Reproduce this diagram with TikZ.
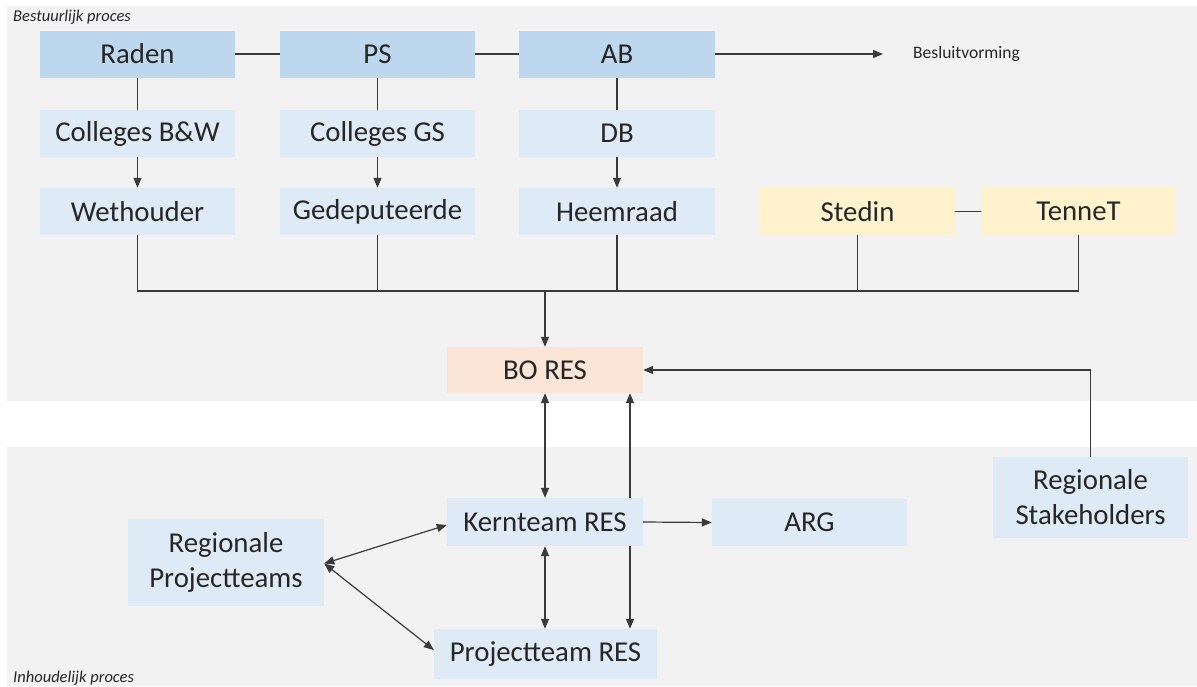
\documentclass[tikz,border=0pt]{standalone}
\usepackage{fontspec}
\setmainfont{Carlito}
\usetikzlibrary{arrows.meta,positioning}

\definecolor{panelgray}{HTML}{F2F2F2}
\definecolor{bluedark}{HTML}{BDD7EE}
\definecolor{bluelight}{HTML}{DEEBF7}
\definecolor{peach}{HTML}{FBE5D6}
\definecolor{cream}{HTML}{FFF2CC}
\definecolor{ink}{HTML}{262626}
\definecolor{wire}{HTML}{3A3A3A}

\tikzset{
  box/.style={draw=none, inner sep=0pt, minimum width=195pt, minimum height=47pt,
              align=center, text=ink, font=\fontsize{28.8}{35}\selectfont},
  top/.style={box, fill=bluedark},
  sub/.style={box, fill=bluelight},
  grid/.style={box, fill=cream},
  hub/.style={box, fill=peach},
  link/.style={draw=wire, line width=1.2pt},
  arr/.style={link, -{Triangle[length=10pt,width=8pt]}},
  arrboth/.style={link, {Triangle[length=10pt,width=8pt]}-{Triangle[length=10pt,width=8pt]}},
  tag/.style={anchor=west, inner sep=0pt, text=ink, font=\fontsize{16.5}{19}\selectfont\itshape}
}

\begin{document}
\begin{tikzpicture}[x=1pt,y=-1pt]
  \useasboundingbox (0,0) rectangle (1197,686);
  \fill[white] (0,0) rectangle (1197,686);

  % two process panels
  \fill[panelgray] (7,6) rectangle (1197,401);
  \fill[panelgray] (7,447) rectangle (1197,686);
  \node[tag] (lblbest) at (13,17) {Bestuurlijk proces};
  \node[tag] (lblinh) at (13,678) {Inhoudelijk proces};

  % governing bodies
  \node[top] (raden) at (137.5,54) {Raden};
  \node[top] (ps)    at (377.5,54) {PS};
  \node[top, minimum width=196pt] (ab) at (617,54) {AB};

  \node[sub] (cbw) at (137.5,133.5) {Colleges B\&W};
  \node[sub] (cgs) at (377.5,133.5) {Colleges GS};
  \node[sub, minimum width=196pt] (db) at (617,133.5) {DB};

  \node[sub] (weth) at (137.5,211.5) {Wethouder};
  \node[sub] (ged)  at (377.5,211.5) {Gedeputeerde};
  \node[sub, minimum width=196pt] (heem) at (617,211.5) {Heemraad};

  \node[grid] (stedin) at (857.5,211.5) {Stedin};
  \node[grid] (tennet) at (1078.5,211.5) {TenneT};

  \node[hub, minimum width=196pt, minimum height=46pt] (bores) at (545,370) {BO RES};

  % content teams
  \node[sub, minimum width=196pt, minimum height=48pt] (kern) at (545,522) {Kernteam RES};
  \node[sub] (arg) at (809.5,522.5) {ARG};
  \node[sub, minimum width=223pt, minimum height=50pt] (pt) at (545.5,654) {Projectteam RES};
  \node[sub, minimum width=196pt, minimum height=87pt] (rp) at (226,562.5) {Regionale\\Projectteams};
  \node[sub, minimum height=81pt] (stake) at (1090.5,497.5) {Regionale\\Stakeholders};

  % top row links
  \draw[link] (raden) -- (ps);
  \draw[link] (ps) -- (ab);
  \coordinate (beslend) at (883,54);
  \draw[arr] (ab.east) -- (beslend);
  \node[anchor=west, inner sep=0pt, text=ink, font=\fontsize{17.5}{20}\selectfont] (besl) at (913,54) {Besluitvorming};

  \draw[link] (raden) -- (cbw);
  \draw[link] (ps) -- (cgs);
  \draw[link] (ab) -- (db);
  \draw[arr] (cbw) -- (weth);
  \draw[arr] (cgs) -- (ged);
  \draw[arr] (db) -- (heem);

  \draw[link] (stedin) -- (tennet);

  % collecting bus towards BO RES
  \coordinate (bus) at (545,291);
  \draw[link] (weth.south) |- (bus) -| (tennet.south);
  \draw[link] (ged.south) -- (ged.south |- bus);
  \draw[link] (heem.south) -- (heem.south |- bus);
  \draw[link] (stedin.south) -- (stedin.south |- bus);
  \draw[arr] (bus) -- (bores.north);

  \draw[arr] (stake.north) |- (bores.east);

  % BO RES and the teams
  \draw[arrboth] (bores.south) -- (kern.north);
  \draw[arr] ([xshift=85pt]kern.north) -- ([xshift=85pt]bores.south);
  \draw[arrboth] (kern.south) -- (kern.south |- pt.north);
  \draw[arr] ([xshift=85pt]kern.south) -- ([xshift=85pt]kern.south |- pt.north);
  \draw[arr] (kern.east) -- (arg.west);

  \draw[arrboth] ([yshift=-1pt]rp.east) -- ([yshift=-3pt]kern.west);
  \draw[arrboth] ([yshift=-1pt]rp.east) -- ([yshift=4pt]pt.west);
\end{tikzpicture}
\end{document}
